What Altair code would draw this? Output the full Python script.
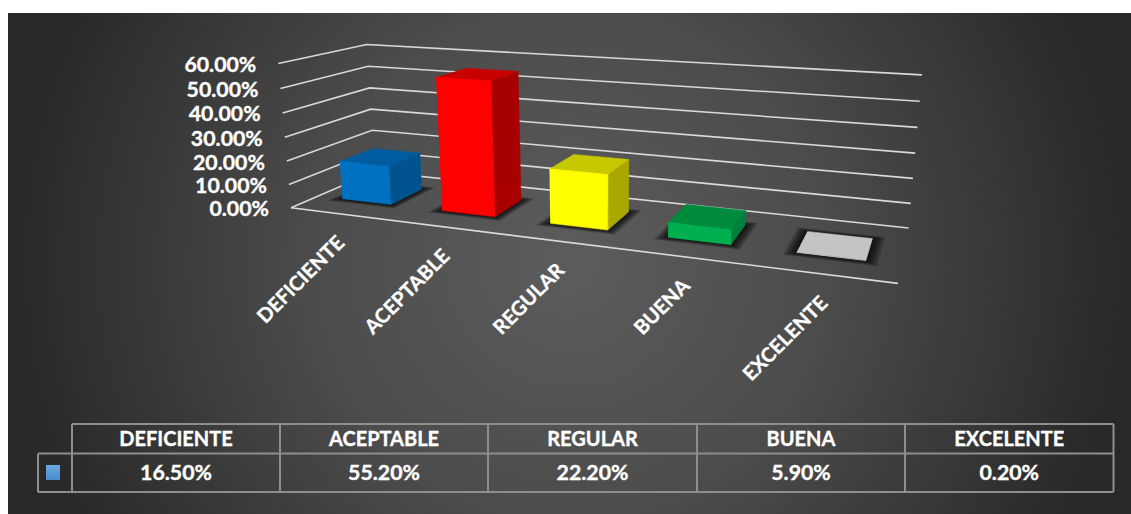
import altair as alt
import numpy as np
import pandas as pd

# Chart values
CATEGORIES = ["DEFICIENTE", "ACEPTABLE", "REGULAR", "BUENA", "EXCELENTE"]
VALUES = [16.5, 55.2, 22.2, 5.9, 0.2]
VALUE_LABELS = ["16.50%", "55.20%", "22.20%", "5.90%", "0.20%"]
TICKS = [60, 50, 40, 30, 20, 10, 0]

# Face shades per bar: front, side, top
FRONT = ["#0070c0", "#ff0000", "#ffff00", "#00b050", "#c4c4c4"]
SIDE = ["#00538f", "#a80000", "#a8a800", "#00803a", "#a8a8a8"]
TOP = ["#005c9e", "#c80000", "#c8c800", "#008a3e", "#c4c4c4"]

# Box of the 3D plot: anchor points used to solve the camera matrix
ANCHOR_LEFT_FRONT = [(278, 64), (280, 89), (282, 113), (285, 137), (287, 161), (289, 184), (292, 207)]
ANCHOR_LEFT_BACK = [(367, 44), (368.7, 66), (370, 88), (371, 109), (372.5, 130), (373, 151), (374, 173)]
ANCHOR_RIGHT_BACK = [(922, 75), (920, 102), (917, 127), (915, 153), (913, 178), (911, 203), (908.5, 228)]
ANCHOR_RIGHT_FRONT = (898, 284)

# Bars occupy half a category and the middle 40% of the depth
BAR_HALF = 0.25
DEPTH_FRONT, DEPTH_BACK = 0.30, 0.70

WIDTH, HEIGHT = 1131, 514
TABLE_X = [72, 280, 488, 697, 905, 1113.5]
TABLE_Y = [424, 453.5, 492]
KEY_X = 38


def solve_camera():
    rows = []
    pairs = []
    for v, a, b, c in zip(TICKS, ANCHOR_LEFT_FRONT, ANCHOR_LEFT_BACK, ANCHOR_RIGHT_BACK):
        pairs += [((0, v, 0), a), ((0, v, 1), b), ((5, v, 1), c)]
    pairs.append(((5, 0, 0), ANCHOR_RIGHT_FRONT))
    for (u, v, w), (x, y) in pairs:
        rows.append([u, v, w, 1, 0, 0, 0, 0, -x * u, -x * v, -x * w, -x])
        rows.append([0, 0, 0, 0, u, v, w, 1, -y * u, -y * v, -y * w, -y])
    return np.linalg.svd(np.array(rows, float))[2][-1].reshape(3, 4)


CAMERA = solve_camera()


def project(u, v, w):
    p = CAMERA @ np.array([u, v, w, 1.0])
    return float(p[0] / p[2]), float(p[1] / p[2])


def polygon_rows(face, corners, fill):
    rows = []
    for i, (u, v, w) in enumerate(corners):
        x, y = project(u, v, w)
        rows.append({"face": face, "seq": i, "x": x, "y": y, "fill": fill})
    return rows


# Scales shared by every layer
X = lambda f="x": alt.X(f, type="quantitative", axis=None,
                        scale=alt.Scale(domain=[0, WIDTH], nice=False, zero=False))
Y = lambda f="y": alt.Y(f, type="quantitative", axis=None,
                        scale=alt.Scale(domain=[HEIGHT, 0], nice=False, zero=False))

layers = []

# Panel background
panel = pd.DataFrame([{"x": 8, "x2": WIDTH, "y": 13, "y2": HEIGHT}])
layers.append(
    alt.Chart(panel).mark_rect(
        fill=alt.RadialGradient(
            gradient="radial", x1=0.5, y1=0.5, r1=0, x2=0.5, y2=0.5, r2=0.5,
            stops=[alt.GradientStop(offset=0, color="#5c5c5c"),
                   alt.GradientStop(offset=0.45, color="#4c4c4c"),
                   alt.GradientStop(offset=1, color="#282828")],
        )
    ).encode(x=X(), x2="x2", y=Y(), y2="y2")
)

# Gridlines on the side and back walls, plus the front edge of the floor
grid = []
for tick in TICKS:
    for seq, (u, w) in enumerate([(0, 0), (0, 1), (5, 1)]):
        x, y = project(u, tick, w)
        grid.append({"line": f"t{tick}", "seq": seq, "x": x, "y": y})
for seq, u in enumerate([0, 5]):
    x, y = project(u, 0, 0)
    grid.append({"line": "front", "seq": seq, "x": x, "y": y})
layers.append(
    alt.Chart(pd.DataFrame(grid)).mark_line(color="#d9d9d9", strokeWidth=1.6).encode(
        x=X(), y=Y(), detail="line:N", order="seq:Q"
    )
)

# Soft floor shadow: nested quads that build up toward the bar footprint
shadow = []
for step, grow in enumerate([1.0, 0.85, 0.7, 0.55, 0.4, 0.25, 0.1]):
    for i in range(len(CATEGORIES)):
        du, dw = 0.09 * grow, 0.07 * grow
        lo, hi = i + 0.5 - BAR_HALF - du, i + 0.5 + BAR_HALF + du
        front, back = DEPTH_FRONT - dw, DEPTH_BACK + dw
        shadow += polygon_rows(f"s{step}-{i}", [(lo, 0, front), (hi, 0, front), (hi, 0, back), (lo, 0, back)], "#000000")
layers.append(
    alt.Chart(pd.DataFrame(shadow)).mark_line(fillOpacity=0.17, strokeWidth=0).encode(
        x=X(), y=Y(), detail="face:N", order="seq:Q",
        fill=alt.Fill("fill:N", scale=None), stroke=alt.value("transparent"),
    )
)

# Bars, painted left to right: side, top, then front
faces = []
for i, value in enumerate(VALUES):
    lo, hi = i + 0.5 - BAR_HALF, i + 0.5 + BAR_HALF
    f, b = DEPTH_FRONT, DEPTH_BACK
    faces += polygon_rows(f"{i}a", [(hi, 0, f), (hi, 0, b), (hi, value, b), (hi, value, f)], SIDE[i])
    faces += polygon_rows(f"{i}b", [(lo, value, f), (hi, value, f), (hi, value, b), (lo, value, b)], TOP[i])
    faces += polygon_rows(f"{i}c", [(lo, 0, f), (hi, 0, f), (hi, value, f), (lo, value, f)], FRONT[i])
layers.append(
    alt.Chart(pd.DataFrame(faces)).mark_line(strokeWidth=0.5).encode(
        x=X(), y=Y(), detail="face:N", order="seq:Q",
        fill=alt.Fill("fill:N", scale=None), stroke=alt.Stroke("fill:N", scale=None),
    )
)

TEXT_STYLE = dict(font="Lato", fontWeight="bold", color="white", stroke="white", strokeWidth=0.35)

# Value-axis labels follow the left-front edge of the box
tick_text = []
for tick in TICKS:
    x, y = project(0, tick, 0)
    tick_text.append({"x": x - 22, "y": y + 2.5, "label": f"{tick:.2f}%"})
layers.append(
    alt.Chart(pd.DataFrame(tick_text)).mark_text(
        fontSize=21.3, align="right", baseline="middle", **TEXT_STYLE
    ).encode(x=X(), y=Y(), text="label:N")
)

# Category labels hang off the front edge of the floor
cat_text = []
for i, name in enumerate(CATEGORIES):
    x, y = project(i + 0.5, 0, 0)
    cat_text.append({"x": x + 1, "y": y + 26, "label": name})
layers.append(
    alt.Chart(pd.DataFrame(cat_text)).mark_text(
        fontSize=20, align="right", baseline="middle", angle=315, **TEXT_STYLE
    ).encode(x=X(), y=Y(), text="label:N")
)

# Data table beneath the chart
rules = []
for yy in TABLE_Y:
    rules.append({"x": TABLE_X[0], "x2": TABLE_X[-1], "y": yy, "y2": yy})
rules.append({"x": KEY_X, "x2": TABLE_X[0], "y": TABLE_Y[1], "y2": TABLE_Y[1]})
rules.append({"x": KEY_X, "x2": TABLE_X[0], "y": TABLE_Y[2], "y2": TABLE_Y[2]})
rules.append({"x": KEY_X, "x2": KEY_X, "y": TABLE_Y[1], "y2": TABLE_Y[2]})
for xx in TABLE_X:
    rules.append({"x": xx, "x2": xx, "y": TABLE_Y[0], "y2": TABLE_Y[2]})
layers.append(
    alt.Chart(pd.DataFrame(rules)).mark_rule(color="#8e8e8e", strokeWidth=2).encode(
        x=X(), x2="x2", y=Y(), y2="y2"
    )
)

headers, values = [], []
for i, name in enumerate(CATEGORIES):
    centre = (TABLE_X[i] + TABLE_X[i + 1]) / 2
    headers.append({"x": centre, "y": (TABLE_Y[0] + TABLE_Y[1]) / 2 + 1.5, "label": name})
    values.append({"x": centre, "y": (TABLE_Y[1] + TABLE_Y[2]) / 2 + 1.5, "label": VALUE_LABELS[i]})
layers.append(
    alt.Chart(pd.DataFrame(headers)).mark_text(
        fontSize=20, align="center", baseline="middle", **TEXT_STYLE
    ).encode(x=X(), y=Y(), text="label:N")
)
layers.append(
    alt.Chart(pd.DataFrame(values)).mark_text(
        fontSize=21.3, align="center", baseline="middle", **TEXT_STYLE
    ).encode(x=X(), y=Y(), text="label:N")
)

# Series key in the table's first cell
key = pd.DataFrame([{"x": 46, "x2": 60, "y": 465, "y2": 480}])
layers.append(
    alt.Chart(key).mark_rect(
        fill=alt.LinearGradient(
            gradient="linear", x1=0, y1=0, x2=0, y2=1,
            stops=[alt.GradientStop(offset=0, color="#6ba8e0"),
                   alt.GradientStop(offset=1, color="#4a8bcf")],
        )
    ).encode(x=X(), x2="x2", y=Y(), y2="y2")
)

chart = alt.layer(*layers).properties(
    width=WIDTH, height=HEIGHT, padding=0, autosize="none", background="white"
).configure_view(stroke=None)

chart.save("out.html", embed_options={"renderer": "svg", "actions": False})
